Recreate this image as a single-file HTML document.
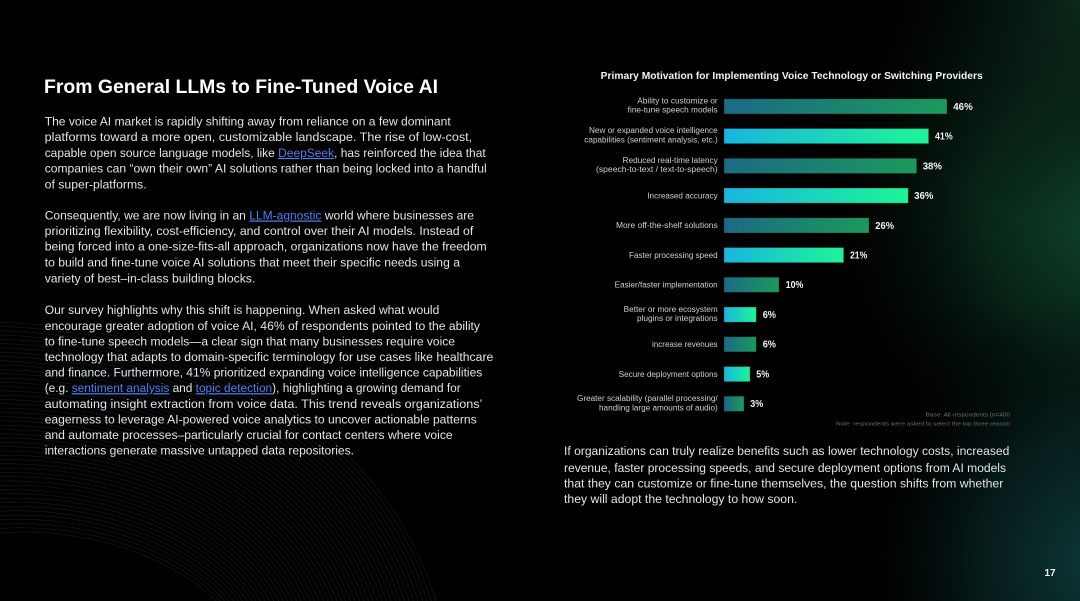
<!DOCTYPE html>
<html><head><meta charset="utf-8">
<style>
html,body{margin:0;padding:0;background:#000;}
svg{display:block;}
text{font-family:"Liberation Sans",Arial,sans-serif;}
.b{font-size:12.2px;fill:#e4e4e4;}
.lk{fill:#4d7ff0;text-decoration:underline;}
.lb{font-size:7.8px;fill:#cfcfcf;}
.pc{font-size:9.7px;fill:#f2f2f2;font-weight:bold;}
.fn{font-size:5.6px;fill:#6e6e6e;}
</style></head>
<body>
<svg width="1080" height="601" viewBox="0 0 1080 601" xmlns="http://www.w3.org/2000/svg">
<defs>
<radialGradient id="gG" gradientUnits="userSpaceOnUse" cx="1130" cy="200" r="330">
<stop offset="0" stop-color="#125236" stop-opacity="0.95"/>
<stop offset="0.45" stop-color="#0c3a24" stop-opacity="0.65"/>
<stop offset="1" stop-color="#000" stop-opacity="0"/>
</radialGradient>
<radialGradient id="gT" gradientUnits="userSpaceOnUse" cx="1110" cy="560" r="270">
<stop offset="0" stop-color="#0e4442" stop-opacity="0.9"/>
<stop offset="0.5" stop-color="#0a2f2e" stop-opacity="0.55"/>
<stop offset="1" stop-color="#000" stop-opacity="0"/>
</radialGradient>
<radialGradient id="gTop" gradientUnits="userSpaceOnUse" cx="1090" cy="0" r="230">
<stop offset="0" stop-color="#0d2e1e" stop-opacity="0.9"/>
<stop offset="1" stop-color="#000" stop-opacity="0"/>
</radialGradient>
<linearGradient id="bA" x1="0" y1="0" x2="1" y2="0">
<stop offset="0" stop-color="#1b6a86"/>
<stop offset="1" stop-color="#1b9a5b"/>
</linearGradient>
<linearGradient id="bB" x1="0" y1="0" x2="1" y2="0">
<stop offset="0" stop-color="#1ab5e0"/>
<stop offset="1" stop-color="#1df596"/>
</linearGradient>
</defs>

<rect x="0" y="0" width="1080" height="601" fill="#000"/>
<rect x="0" y="0" width="1080" height="601" fill="url(#gG)"/>
<rect x="0" y="0" width="1080" height="601" fill="url(#gT)"/>
<rect x="0" y="0" width="1080" height="601" fill="url(#gTop)"/>

<!-- bottom-left curve bundle -->
<g fill="none" stroke="#1d5a63" stroke-opacity="0.35" stroke-width="0.6">
<path d="M0 322 C200 330 380 420 436 601"/>
<path d="M0 326.3 C198 334 376 423 431.5 601"/>
<path d="M0 330.6 C196 338 372 426 427 601"/>
<path d="M0 334.9 C194 342 368 429 422.5 601"/>
<path d="M0 339.2 C192 346 364 432 418 601"/>
<path d="M0 343.5 C190 350 360 435 413.5 601"/>
<path d="M0 347.8 C188 354 356 438 409 601"/>
<path d="M0 352.1 C186 358 352 441 404.5 601"/>
<path d="M0 356.4 C184 362 348 444 400 601"/>
<path d="M0 360.7 C182 366 344 447 395.5 601"/>
<path d="M0 365 C180 370 340 450 391 601"/>
<path d="M0 369.3 C178 374 336 453 386.5 601"/>
<path d="M0 373.6 C176 378 332 456 382 601"/>
<path d="M0 377.9 C174 382 328 459 377.5 601"/>
<path d="M0 382.2 C172 386 324 462 373 601"/>
<path d="M0 386.5 C170 390 320 465 368.5 601"/>
<path d="M0 390.8 C168 394 316 468 364 601"/>
<path d="M0 395.1 C166 398 312 471 359.5 601"/>
<path d="M0 399.4 C164 402 308 474 355 601"/>
<path d="M0 403.7 C162 406 304 477 350.5 601"/>
<path d="M0 408 C160 410 300 480 346 601"/>
<path d="M0 412.3 C158 414 296 483 341.5 601"/>
<path d="M0 416.6 C156 418 292 486 337 601"/>
<path d="M0 420.9 C154 422 288 489 332.5 601"/>
<path d="M0 425.2 C152 426 284 492 328 601"/>
<path d="M0 429.5 C150 430 280 495 323.5 601"/>
<path d="M0 433.8 C148 434 276 498 319 601"/>
<path d="M0 438.1 C146 438 272 501 314.5 601"/>
<path d="M0 442.4 C144 442 268 504 310 601"/>
<path d="M0 446.7 C142 446 264 507 305.5 601"/>
<path d="M0 451 C140 450 260 510 301 601"/>
<path d="M0 455.3 C138 454 256 513 296.5 601"/>
<path d="M0 459.6 C136 458 252 516 292 601"/>
<path d="M0 463.9 C134 462 248 519 287.5 601"/>
<path d="M0 468.2 C132 466 244 522 283 601"/>
<path d="M0 472.5 C130 470 240 525 278.5 601"/>
<path d="M0 476.8 C128 474 236 528 274 601"/>
<path d="M0 481.1 C126 478 232 531 269.5 601"/>
<path d="M0 485.4 C124 482 228 534 265 601"/>
<path d="M0 489.7 C122 486 224 537 260.5 601"/>
<path d="M0 494 C120 490 220 540 256 601"/>
<path d="M0 498.3 C118 494 216 543 251.5 601"/>
<path d="M0 502.6 C116 498 212 546 247 601"/>
<path d="M0 506.9 C114 502 208 549 242.5 601"/>
<path d="M0 511.2 C112 506 204 552 238 601"/>
<path d="M0 515.5 C110 510 200 555 233.5 601"/>
<path d="M0 519.8 C108 514 196 558 229 601"/>
<path d="M0 524.1 C106 518 192 561 224.5 601"/>
<path d="M0 528.4 C104 522 188 564 220 601"/>
<path d="M0 532.7 C102 526 184 567 215.5 601"/>
</g>

<!-- Heading -->
<text x="44" y="93" font-size="19.5" font-weight="bold" fill="#ffffff" textLength="394" lengthAdjust="spacingAndGlyphs">From General LLMs to Fine-Tuned Voice AI</text>

<!-- Paragraph 1 -->
<text class="b" x="44.7" y="125.5" textLength="406" lengthAdjust="spacingAndGlyphs">The voice AI market is rapidly shifting away from reliance on a few dominant</text>
<text class="b" x="44.7" y="141.2" textLength="427.5" lengthAdjust="spacingAndGlyphs">platforms toward a more open, customizable landscape. The rise of low-cost,</text>
<text class="b" x="44.7" y="156.9" textLength="441" lengthAdjust="spacingAndGlyphs">capable open source language models, like <tspan class="lk">DeepSeek</tspan>, has reinforced the idea that</text>
<text class="b" x="44.7" y="172.6" textLength="442" lengthAdjust="spacingAndGlyphs">companies can “own their own” AI solutions rather than being locked into a handful</text>
<text class="b" x="44.7" y="188.3" textLength="102" lengthAdjust="spacingAndGlyphs">of super-platforms.</text>

<!-- Paragraph 2 -->
<text class="b" x="44.7" y="219.5" textLength="429.3" lengthAdjust="spacingAndGlyphs">Consequently, we are now living in an <tspan class="lk">LLM-agnostic</tspan> world where businesses are</text>
<text class="b" x="44.7" y="235.2" textLength="428.6" lengthAdjust="spacingAndGlyphs">prioritizing flexibility, cost-efficiency, and control over their AI models. Instead of</text>
<text class="b" x="44.7" y="250.6" textLength="442" lengthAdjust="spacingAndGlyphs">being forced into a one-size-fits-all approach, organizations now have the freedom</text>
<text class="b" x="44.7" y="266.6" textLength="415.3" lengthAdjust="spacingAndGlyphs">to build and fine-tune voice AI solutions that meet their specific needs using a</text>
<text class="b" x="44.7" y="282.4" textLength="210.6" lengthAdjust="spacingAndGlyphs">variety of best–in-class building blocks.</text>

<!-- Paragraph 3 -->
<text class="b" x="44.7" y="314.2" textLength="394.6" lengthAdjust="spacingAndGlyphs">Our survey highlights why this shift is happening. When asked what would</text>
<text class="b" x="44.7" y="329.8" textLength="435.3" lengthAdjust="spacingAndGlyphs">encourage greater adoption of voice AI, 46% of respondents pointed to the ability</text>
<text class="b" x="44.7" y="345.4" textLength="410.3" lengthAdjust="spacingAndGlyphs">to fine-tune speech models—a clear sign that many businesses require voice</text>
<text class="b" x="44.7" y="361" textLength="448.6" lengthAdjust="spacingAndGlyphs">technology that adapts to domain-specific terminology for use cases like healthcare</text>
<text class="b" x="44.7" y="376.6" textLength="437.6" lengthAdjust="spacingAndGlyphs">and finance. Furthermore, 41% prioritized expanding voice intelligence capabilities</text>
<text class="b" x="44.7" y="392.2" textLength="416" lengthAdjust="spacingAndGlyphs">(e.g. <tspan class="lk">sentiment analysis</tspan> and <tspan class="lk">topic detection</tspan>), highlighting a growing demand for</text>
<text class="b" x="44.7" y="407.8" textLength="437.6" lengthAdjust="spacingAndGlyphs">automating insight extraction from voice data. This trend reveals organizations’</text>
<text class="b" x="44.7" y="423.4" textLength="432" lengthAdjust="spacingAndGlyphs">eagerness to leverage AI-powered voice analytics to uncover actionable patterns</text>
<text class="b" x="44.7" y="439" textLength="408" lengthAdjust="spacingAndGlyphs">and automate processes–particularly crucial for contact centers where voice</text>
<text class="b" x="44.7" y="454.6" textLength="309.3" lengthAdjust="spacingAndGlyphs">interactions generate massive untapped data repositories.</text>

<!-- Chart title -->
<text x="600.7" y="78.8" font-size="9.8" font-weight="bold" fill="#f2f2f2" textLength="382" lengthAdjust="spacingAndGlyphs">Primary Motivation for Implementing Voice Technology or Switching Providers</text>

<!-- Bars -->
<g stroke="#000" stroke-opacity="0.35" stroke-width="0.8">
<rect x="724" y="98.8" width="223" height="15.2" fill="url(#bA)"/>
<rect x="724" y="128.5" width="204.7" height="15.2" fill="url(#bB)"/>
<rect x="724" y="158.3" width="192.7" height="15.2" fill="url(#bA)"/>
<rect x="724" y="188" width="184.3" height="15.2" fill="url(#bB)"/>
<rect x="724" y="217.8" width="145" height="15.2" fill="url(#bA)"/>
<rect x="724" y="247.5" width="119.7" height="15.2" fill="url(#bB)"/>
<rect x="724" y="277.2" width="55" height="15.2" fill="url(#bA)"/>
<rect x="724" y="307" width="32.3" height="15.2" fill="url(#bB)"/>
<rect x="724" y="336.7" width="32.3" height="15.2" fill="url(#bA)"/>
<rect x="724" y="366.5" width="26" height="15.2" fill="url(#bB)"/>
<rect x="724" y="396.2" width="20" height="15.2" fill="url(#bA)"/>
</g>

<!-- Percent labels -->
<text class="pc" x="953.3" y="109.8" textLength="19.4" lengthAdjust="spacingAndGlyphs">46%</text>
<text class="pc" x="935" y="139.5" textLength="17.7" lengthAdjust="spacingAndGlyphs">41%</text>
<text class="pc" x="922.7" y="169.3" textLength="19.3" lengthAdjust="spacingAndGlyphs">38%</text>
<text class="pc" x="914.3" y="199" textLength="19" lengthAdjust="spacingAndGlyphs">36%</text>
<text class="pc" x="875.3" y="228.8" textLength="18.7" lengthAdjust="spacingAndGlyphs">26%</text>
<text class="pc" x="850" y="258.5" textLength="17.3" lengthAdjust="spacingAndGlyphs">21%</text>
<text class="pc" x="785.7" y="288.2" textLength="17.6" lengthAdjust="spacingAndGlyphs">10%</text>
<text class="pc" x="762.7" y="318" textLength="13.3" lengthAdjust="spacingAndGlyphs">6%</text>
<text class="pc" x="762.7" y="347.7" textLength="13.3" lengthAdjust="spacingAndGlyphs">6%</text>
<text class="pc" x="756.3" y="377.5" textLength="13" lengthAdjust="spacingAndGlyphs">5%</text>
<text class="pc" x="750.3" y="407.2" textLength="13" lengthAdjust="spacingAndGlyphs">3%</text>

<!-- Category labels -->
<text class="lb" x="637.3" y="103.4" textLength="80.4" lengthAdjust="spacingAndGlyphs">Ability to customize or</text>
<text class="lb" x="627.7" y="112.7" textLength="90" lengthAdjust="spacingAndGlyphs">fine-tune speech models</text>
<text class="lb" x="589" y="133.1" textLength="128.7" lengthAdjust="spacingAndGlyphs">New or expanded voice intelligence</text>
<text class="lb" x="584.3" y="142.4" textLength="133.4" lengthAdjust="spacingAndGlyphs">capabilities (sentiment analysis, etc.)</text>
<text class="lb" x="622.7" y="162.9" textLength="95" lengthAdjust="spacingAndGlyphs">Reduced real-time latency</text>
<text class="lb" x="596" y="172.2" textLength="121.7" lengthAdjust="spacingAndGlyphs">(speech-to-text / text-to-speech)</text>
<text class="lb" x="647.3" y="198.3" textLength="70.4" lengthAdjust="spacingAndGlyphs">Increased accuracy</text>
<text class="lb" x="616" y="228.1" textLength="101.7" lengthAdjust="spacingAndGlyphs">More off-the-shelf solutions</text>
<text class="lb" x="629" y="257.8" textLength="88.7" lengthAdjust="spacingAndGlyphs">Faster processing speed</text>
<text class="lb" x="614.7" y="287.5" textLength="103" lengthAdjust="spacingAndGlyphs">Easier/faster implementation</text>
<text class="lb" x="623.7" y="311.9" textLength="94" lengthAdjust="spacingAndGlyphs">Better or more ecosystem</text>
<text class="lb" x="637" y="321.2" textLength="80.7" lengthAdjust="spacingAndGlyphs">plugins or integrations</text>
<text class="lb" x="652" y="347" textLength="65.7" lengthAdjust="spacingAndGlyphs">increase revenues</text>
<text class="lb" x="618.7" y="376.8" textLength="99" lengthAdjust="spacingAndGlyphs">Secure deployment options</text>
<text class="lb" x="577" y="401.1" textLength="140.7" lengthAdjust="spacingAndGlyphs">Greater scalability (parallel processing/</text>
<text class="lb" x="599" y="410.4" textLength="118.7" lengthAdjust="spacingAndGlyphs">handling large amounts of audio)</text>

<!-- Footnote -->
<text class="fn" x="925.7" y="416.6" textLength="84.3" lengthAdjust="spacingAndGlyphs">Base: All respondents (n=400</text>
<text class="fn" x="836" y="425.6" textLength="174" lengthAdjust="spacingAndGlyphs">Note: respondents were asked to select the top three reason</text>

<!-- Right paragraph -->
<text class="b" x="564" y="455.2" textLength="445.3" lengthAdjust="spacingAndGlyphs">If organizations can truly realize benefits such as lower technology costs, increased</text>
<text class="b" x="564" y="471.8" textLength="442" lengthAdjust="spacingAndGlyphs">revenue, faster processing speeds, and secure deployment options from AI models</text>
<text class="b" x="564" y="487.5" textLength="439.3" lengthAdjust="spacingAndGlyphs">that they can customize or fine-tune themselves, the question shifts from whether</text>
<text class="b" x="564" y="502.8" textLength="233.3" lengthAdjust="spacingAndGlyphs">they will adopt the technology to how soon.</text>

<!-- Page number -->
<text x="1044.5" y="576" font-size="10" font-weight="bold" fill="#f2f2f2">17</text>
</svg>
</body></html>
